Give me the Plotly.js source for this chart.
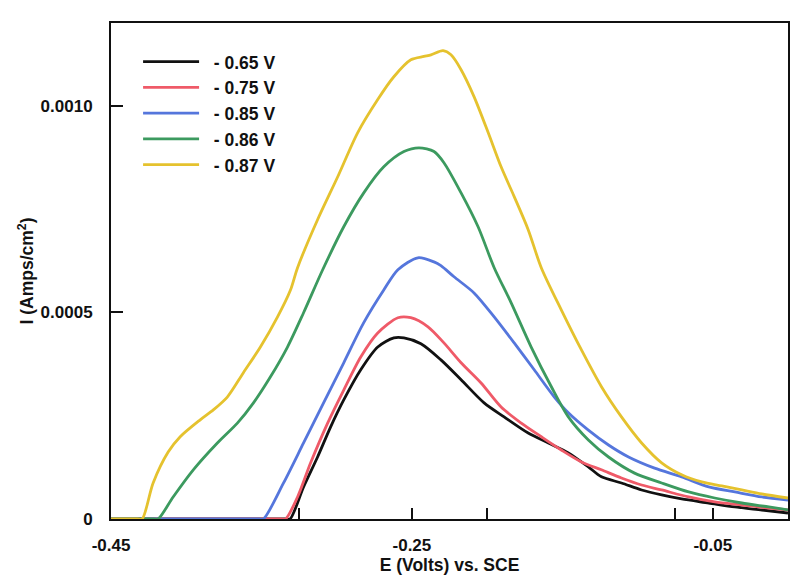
<!DOCTYPE html>
<html>
<head>
<meta charset="utf-8">
<script src="https://cdn.plot.ly/plotly-3.0.1.min.js"></script>
<style>html,body{margin:0;padding:0;background:#fff;}#chart{width:800px;height:584px;}</style>
</head>
<body>
<div id="chart"></div>
<script>
// Series names (legend)
const seriesNames = ['- 0.65 V', '- 0.75 V', '- 0.85 V', '- 0.86 V', '- 0.87 V'];

// -0.65 V (black)
const e065_x = [-0.45, -0.334, -0.331, -0.322, -0.3127, -0.304, -0.2953, -0.284, -0.2727, -0.262, -0.2553, -0.244, -0.2307, -0.2173, -0.202, -0.1887, -0.1727, -0.1593, -0.146, -0.1327, -0.124, -0.1107, -0.0973, -0.084, -0.0707, -0.0527, -0.0353, -0.0173, 0.0];
const e065_y = [0, 0, 0, 0.0000775, 0.000150, 0.000223, 0.000288, 0.000361, 0.000416, 0.000438, 0.000438, 0.000424, 0.000385, 0.000337, 0.000281, 0.000247, 0.000208, 0.000184, 0.000160, 0.000126, 0.000102, 0.0000872, 0.0000702, 0.0000581, 0.0000484, 0.0000387, 0.0000291, 0.0000218, 0.0000145];

// -0.75 V (red)
const e075_x = [-0.45, -0.337, -0.334, -0.326, -0.3173, -0.306, -0.2953, -0.284, -0.2727, -0.2593, -0.2507, -0.2393, -0.2287, -0.2173, -0.204, -0.1907, -0.1773, -0.164, -0.1507, -0.1373, -0.124, -0.1107, -0.0973, -0.084, -0.066, -0.0487, -0.0307, -0.0127, 0.0];
const e075_y = [0, 0, 0, 0.0000533, 0.000136, 0.000232, 0.000312, 0.000392, 0.000450, 0.000487, 0.000487, 0.000465, 0.000426, 0.000378, 0.000329, 0.000271, 0.000232, 0.000199, 0.000167, 0.000138, 0.000119, 0.0000993, 0.0000823, 0.0000702, 0.0000533, 0.0000412, 0.0000339, 0.0000266, 0.0000218];

// -0.85 V (blue)
const e085_x = [-0.45, -0.3517, -0.3487, -0.3353, -0.322, -0.3087, -0.2953, -0.282, -0.2687, -0.2593, -0.246, -0.2353, -0.2307, -0.222, -0.2087, -0.1953, -0.182, -0.1687, -0.1553, -0.146, -0.1327, -0.1193, -0.106, -0.0887, -0.0707, -0.0527, -0.0353, -0.0173, 0.0];
const e085_y = [0, 0, 0, 0.0000872, 0.000184, 0.000281, 0.000378, 0.000475, 0.000554, 0.000603, 0.000632, 0.000622, 0.000613, 0.000586, 0.000547, 0.000489, 0.000426, 0.000361, 0.000295, 0.000257, 0.000215, 0.000179, 0.000150, 0.000123, 0.000102, 0.0000775, 0.0000654, 0.0000533, 0.0000460];

// -0.86 V (green)
const e086_x = [-0.45, -0.4217, -0.4187, -0.4087, -0.3953, -0.3793, -0.366, -0.3553, -0.344, -0.3327, -0.322, -0.3093, -0.2953, -0.282, -0.2687, -0.2553, -0.2453, -0.2353, -0.2287, -0.2173, -0.206, -0.1953, -0.184, -0.1707, -0.1573, -0.146, -0.1327, -0.1193, -0.102, -0.084, -0.066, -0.0487, -0.0307, -0.0127, 0.0];
const e086_y = [0, 0, 0, 0.0000533, 0.000119, 0.000184, 0.000232, 0.000281, 0.000344, 0.000416, 0.000499, 0.000603, 0.000707, 0.000789, 0.000852, 0.000889, 0.000898, 0.000889, 0.000862, 0.000789, 0.000707, 0.000608, 0.000523, 0.000416, 0.000320, 0.000247, 0.000191, 0.000150, 0.000111, 0.0000872, 0.0000654, 0.0000508, 0.0000387, 0.0000291, 0.0000218];

// -0.87 V (yellow)
const e087_x = [-0.45, -0.4323, -0.4293, -0.422, -0.412, -0.404, -0.3907, -0.382, -0.3727, -0.362, -0.3507, -0.3393, -0.3307, -0.326, -0.3127, -0.2993, -0.286, -0.2727, -0.262, -0.2507, -0.242, -0.2373, -0.2293, -0.224, -0.2173, -0.2087, -0.1993, -0.1907, -0.182, -0.1727, -0.164, -0.1507, -0.1373, -0.124, -0.1107, -0.0973, -0.084, -0.0707, -0.0573, -0.044, -0.0307, -0.0173, 0.0];
const e087_y = [0, 0, 0, 0.0000872, 0.000162, 0.000199, 0.000240, 0.000264, 0.000295, 0.000354, 0.000416, 0.000489, 0.000554, 0.000608, 0.000724, 0.000828, 0.000935, 0.001015, 0.001070, 0.001111, 0.001119, 0.001123, 0.001133, 0.001123, 0.001087, 0.001022, 0.000935, 0.000852, 0.000780, 0.000700, 0.000608, 0.000506, 0.000409, 0.000320, 0.000247, 0.000184, 0.000136, 0.000107, 0.0000896, 0.0000799, 0.0000702, 0.0000605, 0.0000508];

// Axis ticks
const xTickVals = [-0.45, -0.25, -0.05];
const xTickText = ['-0.45', '-0.25', '-0.05'];
const xMinorTickVals = [-0.325, -0.2, -0.075];
const yTickVals = [0, 0.0005, 0.001];
const yTickText = ['0', '0.0005', '0.0010'];

const colors = ['#111111', '#ef5a68', '#5576dc', '#3c9a5f', '#e5c22e'];
const xs = [e065_x, e075_x, e085_x, e086_x, e087_x];
const ys = [e065_y, e075_y, e085_y, e086_y, e087_y];

const FONT = 'Liberation Sans, Arial, sans-serif';
const TXT = {family: FONT, size: 17.5, color: '#111111', weight: 'bold'};
const TICK = {family: FONT, size: 17, color: '#111111', weight: 'bold'};

const traces = seriesNames.map((n, i) => ({
  type: 'scatter', mode: 'lines', name: '\u00a0\u00a0' + n,
  x: xs[i], y: ys[i],
  line: {color: colors[i], width: 2.8, shape: 'spline', smoothing: 0.8}
}));

const layout = {
  width: 800, height: 584,
  margin: {l: 111, r: 12, t: 23, b: 65},
  paper_bgcolor: '#ffffff', plot_bgcolor: '#ffffff',
  font: TXT,
  showlegend: true,
  legend: {
    x: 0.04, y: 0.958, xanchor: 'left', yanchor: 'top',
    bgcolor: 'rgba(0,0,0,0)', borderwidth: 0,
    font: TXT,
    itemwidth: 56, traceorder: 'normal'
  },
  xaxis: {
    range: [-0.45, 0.0], autorange: false,
    tickmode: 'array', tickvals: xTickVals, ticktext: xTickText,
    ticks: 'inside', ticklen: 11, tickwidth: 2, tickcolor: '#111111',
    minor: {tickmode: 'array', tickvals: xMinorTickVals, ticks: 'inside', ticklen: 11, tickwidth: 2, tickcolor: '#111111', showgrid: false},
    showline: true, linecolor: '#111111', linewidth: 2, mirror: true,
    showgrid: false, zeroline: false, ticklabelstandoff: 10,
    tickfont: TICK,
    title: {text: 'E (Volts) vs. SCE', standoff: 4, font: TXT}
  },
  yaxis: {
    range: [0, 0.0012], autorange: false,
    tickmode: 'array', tickvals: yTickVals, ticktext: yTickText,
    ticks: 'inside', ticklen: 12, tickwidth: 2, tickcolor: '#111111',
    showline: true, linecolor: '#111111', linewidth: 2, mirror: true,
    showgrid: false, zeroline: false, ticklabelstandoff: 13,
    tickfont: TICK,
    title: {text: 'I (Amps/cm<sup>2</sup>)', standoff: 2, font: TXT}
  }
};

Plotly.newPlot('chart', traces, layout, {displayModeBar: false, staticPlot: true});
</script>
</body>
</html>
